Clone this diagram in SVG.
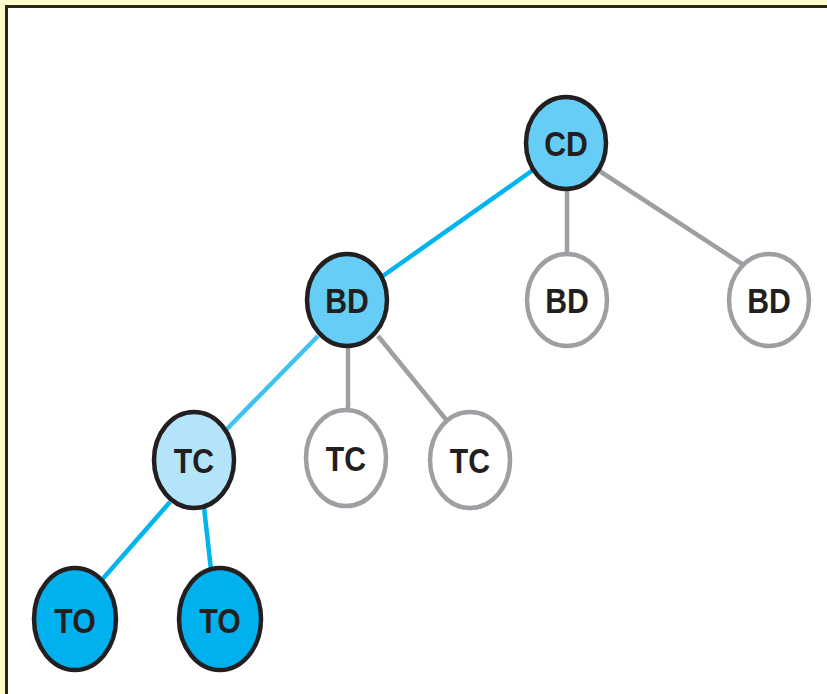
<svg xmlns="http://www.w3.org/2000/svg" width="827" height="694" viewBox="0 0 827 694">
<style>
.n{stroke:#231f20;stroke-width:4.5}
.w{fill:#fff;stroke:#9d9fa2;stroke-width:4.5}
.t{font-family:"Liberation Sans",Arial,sans-serif;font-weight:bold;font-size:36px;fill:#231f20;text-anchor:middle}
.e{stroke-width:4.5;fill:none}
.g{stroke:#9d9fa2}
.b{stroke:#00b4ee}
.lb{stroke:#3ec3f0}
</style>
<rect x="0" y="0" width="827" height="694" fill="#fffccb"/>
<rect x="6.5" y="6.5" width="830" height="700" fill="#fff" stroke="#2b2616" stroke-width="3"/>
<g id="connectors">
<line class="e b" x1="533" y1="170" x2="380" y2="278"/>
<line class="e g" x1="567" y1="188" x2="567" y2="255"/>
<line class="e g" x1="598" y1="170" x2="745" y2="266"/>
<line class="e lb" x1="318" y1="336" x2="224" y2="432"/>
<line class="e g" x1="348" y1="345" x2="348" y2="412"/>
<line class="e g" x1="378" y1="336" x2="448" y2="422"/>
<line class="e b" x1="170" y1="502" x2="100" y2="582"/>
<line class="e b" x1="204" y1="507" x2="211" y2="570"/>
</g>
<g id="n_cd"><ellipse class="n" cx="566" cy="143" rx="40" ry="46" fill="#66cdf6"/><text class="t" x="566" y="156" transform="translate(566 0) scale(0.84 1) translate(-566 0)">CD</text></g>
<g id="n_bd1"><ellipse class="n" cx="347" cy="300" rx="40" ry="46" fill="#66cdf6"/><text class="t" x="347" y="313" transform="translate(347 0) scale(0.84 1) translate(-347 0)">BD</text></g>
<g id="n_bd2"><ellipse class="w" cx="567" cy="300" rx="40" ry="46"/><text class="t" x="567" y="313" transform="translate(567 0) scale(0.84 1) translate(-567 0)">BD</text></g>
<g id="n_bd3"><ellipse class="w" cx="769" cy="300" rx="40" ry="46"/><text class="t" x="769" y="313" transform="translate(769 0) scale(0.84 1) translate(-769 0)">BD</text></g>
<g id="n_tc1"><ellipse class="n" cx="194" cy="460" rx="40" ry="48" fill="#b3e4f9"/><text class="t" x="194" y="473" transform="translate(194 0) scale(0.84 1) translate(-194 0)">TC</text></g>
<g id="n_tc2"><ellipse class="w" cx="346" cy="458" rx="40" ry="48"/><text class="t" x="346" y="471" transform="translate(346 0) scale(0.84 1) translate(-346 0)">TC</text></g>
<g id="n_tc3"><ellipse class="w" cx="470" cy="460" rx="40" ry="48"/><text class="t" x="470" y="473" transform="translate(470 0) scale(0.84 1) translate(-470 0)">TC</text></g>
<g id="n_to1"><ellipse class="n" cx="75" cy="619" rx="41" ry="51" fill="#00b1ee"/><text class="t" x="75" y="633" transform="translate(75 0) scale(0.84 1) translate(-75 0)">TO</text></g>
<g id="n_to2"><ellipse class="n" cx="220" cy="619" rx="41" ry="51" fill="#00b1ee"/><text class="t" x="220" y="633" transform="translate(220 0) scale(0.84 1) translate(-220 0)">TO</text></g>
</svg>
